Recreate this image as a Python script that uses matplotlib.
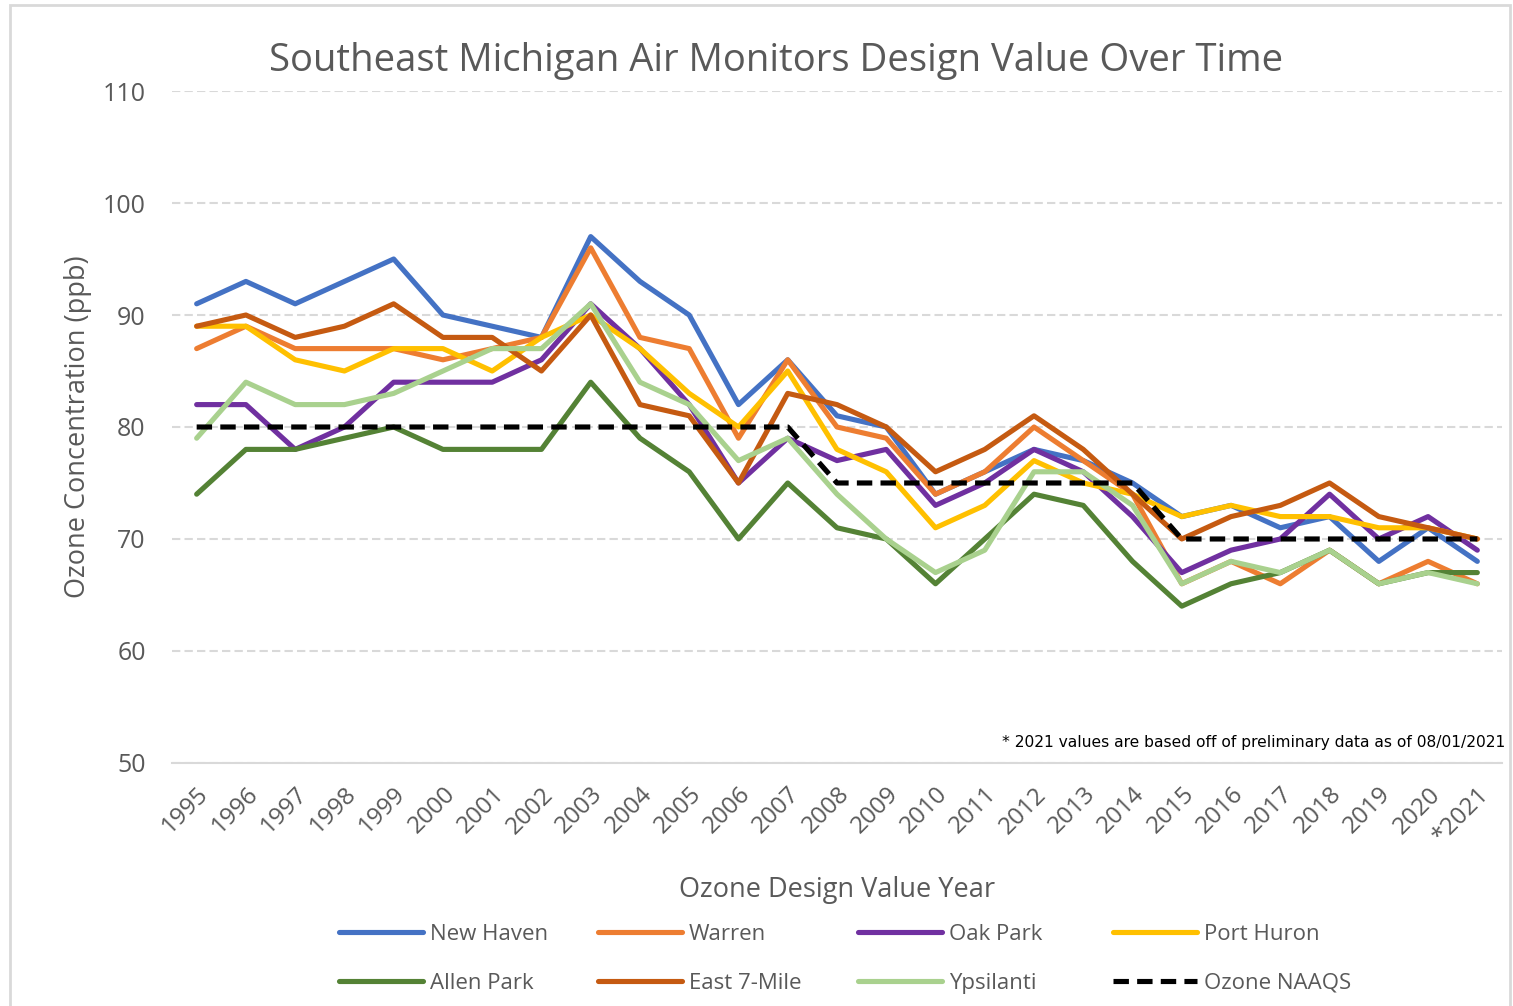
import matplotlib
matplotlib.use("Agg")
import matplotlib.pyplot as plt
from matplotlib.patches import Rectangle

plt.rcParams['font.family'] = ['Open Sans', 'DejaVu Sans']

years = ['1995', '1996', '1997', '1998', '1999', '2000', '2001', '2002', '2003',
         '2004', '2005', '2006', '2007', '2008', '2009', '2010', '2011', '2012',
         '2013', '2014', '2015', '2016', '2017', '2018', '2019', '2020', '*2021']

new_haven = [91, 93, 91, 93, 95, 90, 89, 88, 97, 93, 90, 82, 86, 81, 80, 74, 76, 78,
             77, 75, 72, 73, 71, 72, 68, 71, 68]
warren = [87, 89, 87, 87, 87, 86, 87, 88, 96, 88, 87, 79, 86, 80, 79, 74, 76, 80,
          77, 74, 66, 68, 66, 69, 66, 68, 66]
oak_park = [82, 82, 78, 80, 84, 84, 84, 86, 91, 87, 82, 75, 79, 77, 78, 73, 75, 78,
            76, 72, 67, 69, 70, 74, 70, 72, 69]
port_huron = [89, 89, 86, 85, 87, 87, 85, 88, 90, 87, 83, 80, 85, 78, 76, 71, 73, 77,
              75, 74, 72, 73, 72, 72, 71, 71, 70]
allen_park = [74, 78, 78, 79, 80, 78, 78, 78, 84, 79, 76, 70, 75, 71, 70, 66, 70, 74,
              73, 68, 64, 66, 67, 69, 66, 67, 67]
east_7_mile = [89, 90, 88, 89, 91, 88, 88, 85, 90, 82, 81, 75, 83, 82, 80, 76, 78, 81,
               78, 74, 70, 72, 73, 75, 72, 71, 70]
ypsilanti = [79, 84, 82, 82, 83, 85, 87, 87, 91, 84, 82, 77, 79, 74, 70, 67, 69, 76,
             76, 73, 66, 68, 67, 69, 66, 67, 66]
naaqs = [80, 80, 80, 80, 80, 80, 80, 80, 80, 80, 80, 80, 80, 75, 75, 75, 75, 75,
         75, 75, 70, 70, 70, 70, 70, 70, 70]

series = [
    ('New Haven', new_haven, '#4472C4'),
    ('Warren', warren, '#ED7D31'),
    ('Oak Park', oak_park, '#7030A0'),
    ('Port Huron', port_huron, '#FFC000'),
    ('Allen Park', allen_park, '#548235'),
    ('East 7-Mile', east_7_mile, '#C55A11'),
    ('Ypsilanti', ypsilanti, '#A9D18E'),
]

fig = plt.figure(figsize=(15.13, 10.06), dpi=100)
ax = fig.add_axes([0.1137, 0.2416, 0.8790, 0.6679])

x = list(range(len(years)))
handles = []
for name, vals, col in series:
    h, = ax.plot(x, vals, color=col, lw=3.7, label=name, solid_capstyle='round')
    handles.append(h)
h, = ax.plot(x, naaqs, color='black', lw=3.7, ls=(0, (3, 1.6)), label='Ozone NAAQS')
handles.append(h)

ax.set_xlim(-0.5, len(years) - 0.5)
ax.set_ylim(50, 110)
ax.set_yticks(range(50, 111, 10))
ax.set_xticks(x)
ax.set_xticklabels(years, rotation=45, ha='right', rotation_mode='anchor')
ax.tick_params(axis='both', length=0, labelcolor='#595959')
ax.tick_params(axis='y', labelsize=18, pad=19)
ax.tick_params(axis='x', labelsize=17.5, pad=14)
ax.yaxis.grid(True, color='#D9D9D9', ls=(0, (4, 2)), lw=1.5)
ax.set_axisbelow(True)
for s in ['top', 'left', 'right']:
    ax.spines[s].set_visible(False)
ax.spines['bottom'].set_color('#D9D9D9')
ax.spines['bottom'].set_linewidth(1.5)

ax.set_ylabel('Ozone Concentration (ppb)', fontsize=19.5, color='#595959', labelpad=8)
ax.set_xlabel('Ozone Design Value Year', fontsize=19.5, color='#595959', labelpad=20)
fig.text(776 / 1513, 1 - 61 / 1006, 'Southeast Michigan Air Monitors Design Value Over Time',
         fontsize=27.5, color='#595959', ha='center', va='center')
fig.text(1505 / 1513, 1 - 742 / 1006,
         '* 2021 values are based off of preliminary data as of 08/01/2021',
         family=['Liberation Sans Narrow', 'DejaVu Sans'], fontsize=11.2,
         color='black', ha='right', va='center')

# one small legend per column so the columns sit at even spacing
col_x = [339, 598, 858, 1113]
for j, cx in enumerate(col_x):
    pair = [handles[j], handles[j + 4]]
    leg = fig.legend(pair, [p.get_label() for p in pair],
                     loc='upper left', bbox_to_anchor=(cx / 1513, 1 - 924 / 1006),
                     ncol=1, frameon=False, fontsize=16, handlelength=3.8,
                     handletextpad=0.3, labelspacing=1.25, borderpad=0,
                     borderaxespad=0, labelcolor='#595959')

fig.patches.append(Rectangle((10 / 1513, -0.01), 1500 / 1513, 1.01 - 5 / 1006,
                             transform=fig.transFigure, fill=False,
                             edgecolor='#D9D9D9', lw=2))

fig.savefig('out.png', dpi=100)
